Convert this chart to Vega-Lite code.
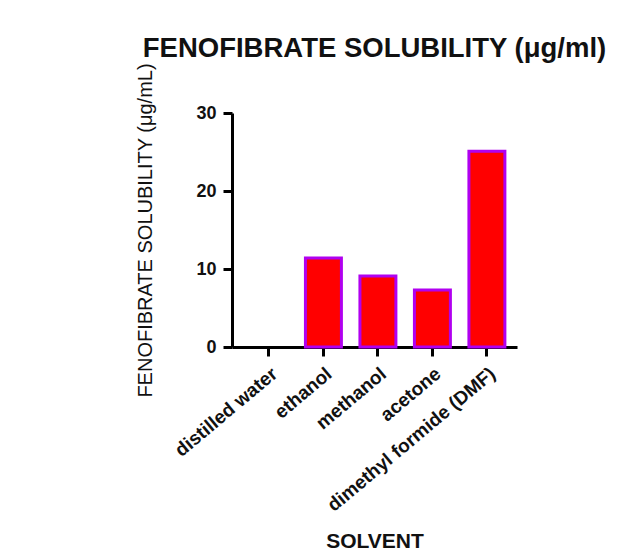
{
  "$schema": "https://vega.github.io/schema/vega-lite/v6.json",
  "autosize": "none",
  "width": 285,
  "height": 234,
  "padding": {"left": 232, "top": 113, "right": 119, "bottom": 206},
  "background": "white",
  "config": {"view": {"stroke": null}, "font": "Liberation Sans"},
  "title": {
    "text": "FENOFIBRATE SOLUBILITY (μg/ml)",
    "font": "Liberation Sans",
    "fontSize": 27.5,
    "fontWeight": "bold",
    "color": "#111111",
    "anchor": "middle",
    "frame": "group",
    "offset": 0
  },
  "data": {
    "values": [
      {"solvent": "distilled water", "solubility": 0},
      {"solvent": "ethanol", "solubility": 11.4},
      {"solvent": "methanol", "solubility": 9.1},
      {"solvent": "acetone", "solubility": 7.3},
      {"solvent": "dimethyl formide (DMF)", "solubility": 25.1}
    ]
  },
  "mark": {"type": "bar", "fill": "#FF0000", "stroke": "#B000F0", "strokeWidth": 3},
  "encoding": {
    "strokeOpacity": {"condition": {"test": "datum.solubility == 0", "value": 0}, "value": 1},
    "x": {
      "field": "solvent",
      "type": "nominal",
      "sort": null,
      "scale": {"paddingInner": 0.34, "paddingOuter": 0.285, "align": 0.61},
      "axis": {
        "title": "SOLVENT",
        "titleFont": "Liberation Sans",
        "titleFontSize": 21,
        "titleFontWeight": "bold",
        "titleColor": "#111111",
        "titlePadding": 16,
        "labelAngle": -40,
        "labelFont": "Liberation Sans",
        "labelFontSize": 19,
        "labelFontWeight": "bold",
        "labelColor": "#111111",
        "labelPadding": 8,
        "labelLimit": 0,
        "domainColor": "#000000",
        "domainWidth": 3,
        "tickColor": "#000000",
        "tickWidth": 3,
        "tickSize": 9,
        "grid": false
      }
    },
    "y": {
      "field": "solubility",
      "type": "quantitative",
      "scale": {"domain": [0, 30], "nice": false},
      "axis": {
        "title": "FENOFIBRATE SOLUBILITY (μg/mL)",
        "titleFont": "Liberation Sans",
        "titleFontSize": 20,
        "titleFontWeight": "normal",
        "titleColor": "#111111",
        "titlePadding": 40,
        "values": [0, 10, 20, 30],
        "labelFont": "Liberation Sans",
        "labelFontSize": 18,
        "labelFontWeight": "bold",
        "labelColor": "#111111",
        "labelPadding": 7,
        "domainColor": "#000000",
        "domainWidth": 3,
        "tickColor": "#000000",
        "tickWidth": 3,
        "tickSize": 9,
        "grid": false
      }
    }
  }
}
